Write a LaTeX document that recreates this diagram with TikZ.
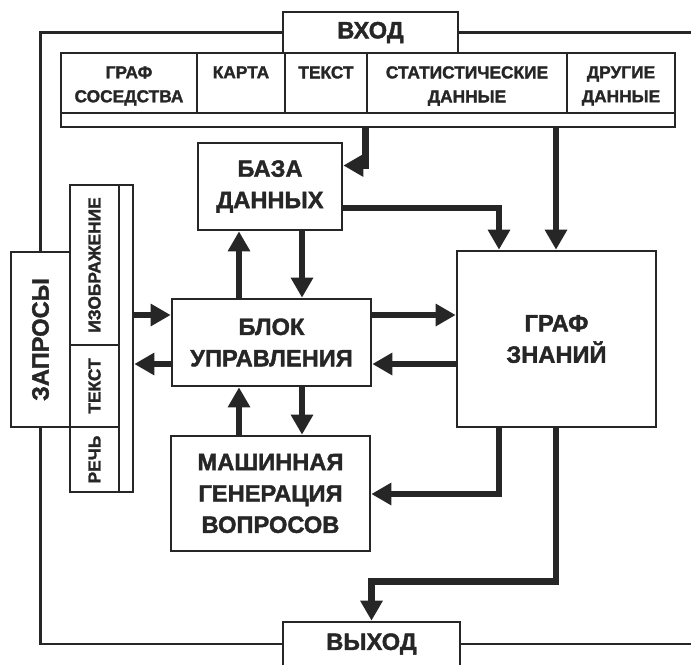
\documentclass[tikz,border=0pt]{standalone}
\usepackage{fontspec}
\setmainfont{Liberation Sans}[BoldFeatures={FakeBold=1.6}]
\usetikzlibrary{arrows.meta,calc}
\newcommand\dgbig{\fontsize{17.75pt}{23.5pt}\selectfont\bfseries}
\newcommand\dgsmall{\fontsize{13pt}{18pt}\selectfont\bfseries}
\begin{document}
\begin{tikzpicture}[x=0.75pt,y=-0.75pt,
  box/.style 2 args={draw=black!85, line width=2pt, minimum width=#1*0.75pt,
    minimum height=#2*0.75pt, inner sep=0pt, align=center, font=\dgbig, text=black!85},
  cellbox/.style 2 args={draw=black!85, line width=2pt, minimum width=#1*0.75pt,
    minimum height=#2*0.75pt, inner sep=0pt},
  smalltext/.style={font=\dgsmall, align=center, inner sep=0pt, text=black!85},
  arr/.style={draw=black!85, line width=5pt, -{Triangle[length=15pt,width=16pt]}},
  frame/.style={draw=black!85, line width=2pt}]
\fill[white] (0,0) rectangle (691,664);
\useasboundingbox (0,0) rectangle (691,664);

% helper coordinates
\coordinate (xa) at (239,0);
\coordinate (xb) at (302,0);
\coordinate (xg1) at (499,0);
\coordinate (xg2) at (556,0);
\coordinate (ya) at (0,315);
\coordinate (yb) at (0,364);
\coordinate (yc) at (0,494);
\coordinate (edgeR) at (700,0);

% input block
\node[box={175}{41}] (vhod) at (370.5,32.5) {ВХОД};
\node[cellbox={614}{74}] (inrow) at (368,90) {};
\node[cellbox={136}{60}] (c1) at (129,83) {};
\node[cellbox={88}{60}] (c2) at (241,83) {};
\node[cellbox={82}{60}] (c3) at (326,83) {};
\node[cellbox={200}{60}] (c4) at (467,83) {};
\node[cellbox={108}{60}] (c5) at (621,83) {};
\node[smalltext, anchor=north] (t1) at (129,66) {ГРАФ\\СОСЕДСТВА};
\node[smalltext, anchor=north] (t2) at (241,66) {КАРТА};
\node[smalltext, anchor=north] (t3) at (326,66) {ТЕКСТ};
\node[smalltext, anchor=north] (t4) at (467,66) {СТАТИСТИЧЕСКИЕ\\ДАННЫЕ};
\node[smalltext, anchor=north] (t5) at (621,66) {ДРУГИЕ\\ДАННЫЕ};

% main boxes
\node[box={144}{87}] (baza) at (270,186.5) {БАЗА\\ДАННЫХ};
\node[box={199}{176}] (graf) at (556.5,339) {ГРАФ\\ЗНАНИЙ};
\node[box={199}{87}] (blok) at (271.5,342.5) {БЛОК\\УПРАВЛЕНИЯ};
\node[box={199}{115}] (mash) at (270.5,493.5) {МАШИННАЯ\\ГЕНЕРАЦИЯ\\ВОПРОСОВ};
\node[box={177}{44}] (vyh) at (371.5,644) {ВЫХОД};

% queries
\node[box={59}{175}] (zap) at (40.5,339.5) {};
\node[font=\dgbig, text=black!85, rotate=90, inner sep=0pt] (zapt) at (zap.center) {ЗАПРОСЫ};
\node[cellbox={63}{307}] (panel) at (101.5,338.5) {};
\node[cellbox={49}{160}] (p1) at (94.5,265) {};
\node[cellbox={49}{82}] (p2) at (94.5,386) {};
\node[cellbox={49}{65}] (p3) at (94.5,459.5) {};
\node[smalltext, rotate=90] (pt1) at (p1.center) {ИЗОБРАЖЕНИЕ};
\node[smalltext, rotate=90] (pt2) at (p2.center) {ТЕКСТ};
\node[smalltext, rotate=90] (pt3) at (p3.center) {РЕЧЬ};

% outer frame
\draw[frame] (vhod.west) -| (zap.north);
\draw[frame] (zap.south) |- (vyh.west);
\draw[frame] (vhod.east) -- (vhod.east -| edgeR);
\draw[frame] (vyh.east) -- (vyh.east -| edgeR);

% connectors
\draw[arr] (inrow.south -| c4.west) |- ($(baza.east)+(0,-21)$);
\draw[arr] (inrow.south -| xg2) -- (graf.north -| xg2);
\draw[arr] ($(baza.east)+(0,21.5)$) -| (graf.north -| xg1);
\draw[arr] (blok.north -| xa) -- (baza.south -| xa);
\draw[arr] (baza.south -| xb) -- (blok.north -| xb);
\draw[arr] (mash.north -| xa) -- (blok.south -| xa);
\draw[arr] (blok.south -| xb) -- (mash.north -| xb);
\draw[arr] (blok.east |- ya) -- (graf.west |- ya);
\draw[arr] (graf.west |- yb) -- (blok.east |- yb);
\draw[arr] (panel.east |- ya) -- (blok.west |- ya);
\draw[arr] (blok.west |- yb) -- (panel.east |- yb);
\draw[arr] (graf.south -| xg1) |- (mash.east |- yc);
\draw[arr] (graf.south -| xg2) |- ($(vyh.north)+(0,-39)$) -- (vyh.north);
\end{tikzpicture}
\end{document}
